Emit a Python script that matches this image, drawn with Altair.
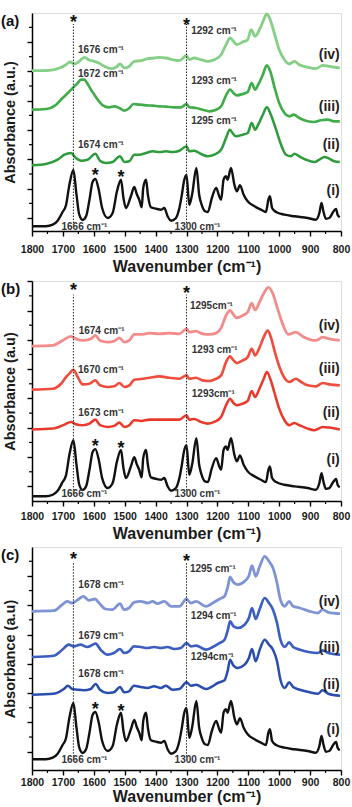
import altair as alt
import pandas as pd

FONT = "Liberation Sans"

# ---------------- data (absorbance in arbitrary units, offset traces) ----------------
# (i) reference spectrum (black), same in all panels
i_wn = [1800, 1755, 1733, 1717, 1701, 1690, 1679, 1666, 1656, 1647, 1636, 1625, 1614, 1604, 1595,
        1584, 1573, 1555, 1539, 1525, 1512, 1504, 1496, 1480, 1469, 1461, 1453, 1445, 1440, 1431,
        1425, 1415, 1399, 1382, 1372, 1361, 1350, 1336, 1323, 1315, 1308, 1300, 1291, 1282, 1268,
        1259, 1251, 1240, 1231, 1218, 1204, 1194, 1188, 1180, 1172, 1167, 1156, 1145, 1137, 1127,
        1115, 1102, 1080, 1059, 1043, 1035, 1030, 1023, 1010, 983, 951, 908, 881, 870, 863, 857,
        849, 838, 824, 816, 811, 804]
i_ab = [4.7, 4.7, 6.3, 10.3, 19, 25.7, 46.3, 61, 36.3, 16.3, 11, 14.7, 31.3, 49, 52,
        41.3, 23, 13, 18, 39.7, 51.3, 33, 23, 34.7, 44, 37, 31.3, 23.7, 43, 51.3,
        36.3, 23.7, 22.3, 21.3, 23, 14.7, 10.3, 12.3, 23, 36.3, 50, 56, 26.3, 36.3, 63,
        36.3, 26.3, 19.7, 19, 33, 43, 34.7, 31.3, 51.3, 54.7, 51.3, 63, 46.3, 39.7, 45.7,
        36.3, 29.7, 24.7, 21.3, 19, 31.3, 34.7, 23, 19, 16.3, 14.7, 13, 11.3, 18, 28, 19.7,
        12.3, 13, 19.7, 22, 16.3, 13.7]

# panel (a) - green
a_ii_wn = [1800, 1755, 1717, 1695, 1674, 1658, 1641, 1620, 1595, 1580, 1560, 1539, 1515, 1501, 1485,
           1469, 1453, 1431, 1409, 1388, 1366, 1345, 1323, 1300, 1291, 1275, 1253, 1231, 1210, 1188,
           1172, 1160, 1151, 1140, 1118, 1102, 1089, 1078, 1068, 1053, 1040, 1027, 1010, 994, 978,
           962, 951, 935, 913, 886, 870, 854, 838, 822, 804]
a_ii_ab = [65.7, 67, 71.3, 76.3, 78, 73, 70.3, 71.3, 77.3, 70.3, 68, 69, 74.7, 69, 69.7,
           76.3, 76.3, 78, 79.7, 79, 79.7, 79, 80.3, 84.7, 79.7, 80.3, 77, 74.7, 76.3, 81.3,
           93, 101.3, 98, 94.7, 96.3, 98, 108, 101.3, 106.3, 116.3, 123.7, 116.3, 101.3, 86.3, 76.3,
           74.7, 77.3, 74.7, 71.3, 69, 71.3, 74, 72.3, 69.7, 69]
a_iii_wn = [1800, 1755, 1722, 1701, 1684, 1668, 1652, 1641, 1631, 1620, 1609, 1598, 1587, 1571, 1550,
            1534, 1517, 1501, 1485, 1472, 1453, 1431, 1409, 1388, 1366, 1339, 1318, 1300, 1291, 1269,
            1248, 1226, 1204, 1188, 1172, 1159, 1148, 1137, 1118, 1102, 1089, 1078, 1068, 1053, 1040,
            1029, 1016, 1000, 983, 967, 953, 935, 908, 886, 865, 843, 822, 804]
a_iii_ab = [121.3, 122, 126.3, 133, 138, 143, 148, 151.3, 151.3, 147, 141.3, 136.3, 131.3, 125.7, 123.7,
            124.7, 123, 120.3, 123, 127, 126.3, 125.7, 125.3, 124.7, 124.3, 123.7, 123.7, 127, 123.7, 123,
            121.3, 119.7, 121.3, 124.7, 135.7, 141.3, 138, 135.7, 137, 139, 148, 141.3, 146.3, 156.3, 165.7,
            159.7, 144.7, 128, 118, 114.7, 116.3, 113, 109.7, 109, 110.7, 111.3, 109.7, 109.7]
a_iv_wn = [1800, 1744, 1711, 1690, 1677, 1663, 1647, 1631, 1614, 1598, 1584, 1566, 1544, 1528, 1515,
           1501, 1485, 1469, 1447, 1426, 1404, 1388, 1366, 1345, 1323, 1300, 1291, 1275, 1253, 1231,
           1210, 1188, 1172, 1159, 1148, 1137, 1118, 1102, 1091, 1078, 1064, 1050, 1040, 1029, 1016,
           1000, 983, 967, 951, 935, 908, 881, 859, 838, 804]
a_iv_ab = [160.3, 160.7, 163, 166.3, 169, 167, 169.7, 173.7, 170.7, 169.7, 168, 164.7, 162.3, 163.7, 167,
           163, 164.7, 169.7, 170.3, 172.3, 173, 173.7, 173, 171.3, 170.3, 175.5, 171.3, 173, 171.3, 169.7,
           171.3, 176.3, 186.3, 193, 189.7, 186.3, 189, 191.3, 201.3, 194.7, 201.3, 211.3, 217, 211.3, 198,
           181.3, 171.3, 167, 169.7, 166.3, 163.7, 162.3, 165.7, 164.7, 163]

# panel (b) - red
b_ii_wn = [1800, 1733, 1695, 1674, 1658, 1636, 1614, 1595, 1580, 1555, 1534, 1517, 1501, 1485, 1469,
           1447, 1420, 1388, 1356, 1323, 1300, 1291, 1275, 1253, 1231, 1210, 1188, 1172, 1159, 1148,
           1137, 1118, 1102, 1089, 1078, 1064, 1050, 1040, 1029, 1016, 1000, 983, 967, 951, 935,
           908, 886, 859, 838, 804]
b_ii_ab = [71.7, 72.6, 76.6, 79.3, 77, 76, 77.6, 81.6, 76, 74.3, 75.3, 78.6, 74.3, 76, 81,
           80.3, 81.6, 81.6, 81.6, 81.6, 86, 81.6, 82.3, 79.3, 77.6, 79.3, 84.3, 96, 102.6, 98.3,
           96, 97.6, 100.3, 110.3, 104.3, 112.6, 122.6, 129.3, 122.6, 109.3, 92.6, 81, 76, 78.3, 76,
           72.6, 71, 74.3, 73.6, 71.7]
b_iii_wn = [1800, 1733, 1706, 1690, 1677, 1666, 1652, 1636, 1614, 1595, 1580, 1555, 1534, 1517, 1501,
            1485, 1469, 1447, 1420, 1388, 1356, 1323, 1300, 1291, 1269, 1248, 1226, 1204, 1188, 1172,
            1159, 1148, 1137, 1118, 1102, 1089, 1078, 1064, 1050, 1037, 1027, 1014, 997, 981, 967,
            946, 929, 908, 881, 859, 838, 804]
b_iii_ab = [111.6, 112.6, 117.6, 124.3, 128.5, 131.6, 124.3, 117, 117.6, 121, 116, 114.3, 115, 118.3, 114.3,
            116, 121.6, 122.3, 123.6, 125, 123.6, 122.6, 126, 122.6, 123.6, 121, 120.3, 122.6, 126, 139.3,
            145, 141, 138.3, 141, 144.3, 152.6, 146, 153.6, 164.3, 171, 164.3, 149.3, 132.6, 122.6, 119.3,
            122.6, 119.3, 116, 115, 118.3, 117, 116]
b_iv_wn = [1800, 1733, 1701, 1674, 1658, 1631, 1609, 1595, 1580, 1555, 1534, 1517, 1501, 1485, 1469,
           1447, 1420, 1388, 1356, 1323, 1300, 1291, 1269, 1248, 1226, 1204, 1188, 1172, 1159, 1148,
           1137, 1118, 1102, 1089, 1078, 1064, 1048, 1035, 1021, 1005, 989, 970, 946, 924, 897,
           881, 859, 838, 804]
b_iv_ab = [155.3, 156, 161, 165, 162.6, 161, 162.6, 166, 161, 159.3, 160.3, 163.6, 159.3, 161, 167,
           167, 168.3, 167.6, 168.3, 167.6, 172.6, 169.3, 170.3, 167.6, 167, 168.3, 173.6, 186, 191, 187,
           183.6, 186, 189.3, 198.3, 191.6, 199.3, 209.3, 214.3, 208.3, 192.6, 177.6, 167, 169.3, 165, 161.6,
           161, 164.3, 162.6, 161]

# panel (c) - blue
c_ii_wn = [1800, 1730, 1697, 1684, 1670, 1654, 1632, 1610, 1594, 1580, 1556, 1535, 1515, 1502, 1486,
           1470, 1448, 1426, 1405, 1383, 1367, 1345, 1323, 1300, 1286, 1269, 1237, 1220, 1199, 1177,
           1166, 1159, 1148, 1134, 1112, 1098, 1088, 1076, 1063, 1047, 1033, 1020, 1007, 996, 982,
           968, 955, 933, 901, 874, 860, 841, 803]
c_ii_ab = [69.3, 70.3, 75, 78.3, 75, 74.3, 73.7, 75, 80, 74.3, 71, 71.7, 77, 71.7, 72.7,
           78.3, 77, 76, 77.7, 76, 78.3, 74.3, 75, 81.7, 78.3, 79.3, 75, 77, 81, 83.7,
           94.3, 104.3, 98.3, 96, 99.3, 106, 115, 102.7, 114.3, 124.3, 119.3, 114.3, 102.7, 84.3, 76,
           81.7, 77, 74.3, 71.7, 70.3, 73.7, 70.3, 68.3]
c_iii_wn = [1800, 1730, 1702, 1681, 1665, 1643, 1621, 1594, 1578, 1556, 1535, 1515, 1502, 1486, 1470,
            1448, 1426, 1405, 1383, 1361, 1340, 1318, 1300, 1286, 1269, 1237, 1215, 1193, 1177, 1166,
            1159, 1148, 1134, 1112, 1098, 1088, 1076, 1063, 1047, 1033, 1020, 1007, 996, 982, 968,
            955, 933, 901, 874, 860, 841, 803]
c_iii_ab = [107, 108.3, 114.3, 119.3, 117.7, 119.3, 117, 120.3, 114.3, 109.3, 111, 115, 111, 112.7, 117.7,
            117, 116, 117, 116, 117, 115, 116, 121, 117.7, 118.3, 114.3, 117, 121, 124.3, 134.3,
            142.7, 137.7, 136, 139.3, 146, 156, 145, 155, 166, 161, 154.3, 141, 124.3, 117, 121.7,
            117, 114.3, 111.7, 111, 113.7, 111, 109.3]
c_iv_wn = [1800, 1730, 1702, 1686, 1670, 1654, 1634, 1616, 1596, 1583, 1562, 1540, 1515, 1502, 1486,
           1470, 1448, 1426, 1410, 1394, 1372, 1350, 1323, 1300, 1286, 1269, 1237, 1215, 1193, 1177,
           1166, 1159, 1148, 1134, 1112, 1098, 1088, 1076, 1063, 1047, 1033, 1020, 1007, 996, 982,
           968, 955, 933, 901, 874, 860, 841, 803]
c_iv_ab = [152.7, 153.3, 159.3, 162.7, 161, 163.7, 167.7, 163.7, 165, 161, 155, 154.3, 160.3, 154.3, 156,
           161.7, 162.7, 161, 162.7, 160.3, 162.7, 157.7, 157.7, 165, 161, 162.7, 157.7, 161, 165, 167.7,
           177.7, 187, 181.7, 179.3, 182.7, 188.3, 198.3, 187.7, 197.7, 207.7, 202.7, 196, 181, 164.3, 157.7,
           162.7, 157.7, 156, 152.7, 151, 154.3, 151.7, 150.3]

series_names = ["(i)", "(ii)", "(iii)", "(iv)"]

# peak annotations: text, wavenumber (left edge), height
a_notes = [("1676 cm⁻¹", 1651, 181), ("1672 cm⁻¹", 1651, 157), ("1674 cm⁻¹", 1651, 86),
           ("1292 cm⁻¹", 1285, 200), ("1293 cm⁻¹", 1285, 150), ("1295 cm⁻¹", 1285, 110)]
b_notes = [("1674 cm⁻¹", 1649, 170.7), ("1670 cm⁻¹", 1651, 131.6), ("1673 cm⁻¹", 1650, 88.3),
           ("1295cm⁻¹", 1289, 195.6), ("1293 cm⁻¹", 1283, 151.3), ("1293cm⁻¹", 1283, 107.3)]
c_notes = [("1678 cm⁻¹", 1650, 179), ("1679 cm⁻¹", 1650, 128), ("1678 cm⁻¹", 1650, 90),
           ("1295 cm⁻¹", 1289, 194.7), ("1294 cm⁻¹", 1286, 148), ("1294cm⁻¹", 1286, 107.3)]

# trace labels heights (iv),(iii),(ii),(i)
a_roman_h = [176, 124, 86, 40]
b_roman_h = [175, 132.3, 88.3, 41.3]
c_roman_h = [162.3, 115.7, 79, 34]

# reference band labels under the dotted lines
ref_labels = ["1666 cm⁻¹", "1300 cm⁻¹"]
ref_lines = [1666, 1300]
star_wn = [1666, 1300, 1595, 1512]

x_major = list(range(800, 1801, 100))
x_minor = list(range(850, 1800, 100))


def panel(letter, ytitle, traces, colors, notes, roman_h, ref_wn, ref_h, star_h, dot_span,
          height, ydom, ytick0, ystep, lab_pad, title_pad):
    rows = []
    for name, wn, ab in traces:
        rows += [{"s": name, "w": w, "a": a} for w, a in zip(wn, ab)]
    df = pd.DataFrame(rows)

    xsc = alt.Scale(domain=[800, 1800], reverse=True, nice=False, zero=False)
    ysc = alt.Scale(domain=ydom, nice=False, zero=False)
    ymaj = []
    ymin = []
    k = 0
    while ytick0 + k * ystep <= ydom[1] + 0.6:
        ymaj.append(ytick0 + k * ystep)
        if ytick0 + (k + 0.5) * ystep <= ydom[1]:
            ymin.append(ytick0 + (k + 0.5) * ystep)
        k += 1
    xaxis = alt.Axis(values=x_major, format="d", title="Wavenumber (cm⁻¹)", grid=False,
                     labelFont=FONT, labelFontWeight="bold", labelFontSize=10.5, labelColor="#1a1a1a",
                     labelPadding=lab_pad, labelOverlap=False, labelFlush=False,
                     tickSize=5, tickWidth=1.4, tickColor="black", domainColor="black", domainWidth=1.5,
                     titleFont=FONT, titleFontWeight="bold", titleFontSize=16, titleColor="#1a1a1a",
                     titlePadding=title_pad)
    yaxis = alt.Axis(values=ymaj, labels=False, title=ytitle, grid=False,
                     tickSize=5, tickWidth=1.4, tickColor="black", domainColor="black", domainWidth=1.5,
                     titleFont=FONT, titleFontWeight="bold", titleFontSize=14.5, titleColor="#1a1a1a",
                     titlePadding=9)
    X = alt.X("w:Q", scale=xsc, axis=xaxis)
    Y = alt.Y("a:Q", scale=ysc, axis=yaxis)

    lines = alt.Chart(df).mark_line(interpolate="monotone", strokeJoin="round").encode(
        x=X, y=Y,
        color=alt.Color("s:N", scale=alt.Scale(domain=series_names, range=["#111111"] + colors), legend=None),
        strokeWidth=alt.StrokeWidth("s:N", scale=alt.Scale(domain=series_names, range=[2.4, 2.8, 2.8, 2.8]),
                                    legend=None),
    )
    dots = alt.Chart(pd.DataFrame({"w": ref_wn, "a": [dot_span[0]] * 2, "a2": [dot_span[1]] * 2})).mark_rule(
        color="#222", strokeWidth=1, strokeDash=[1.5, 1.5]).encode(x=X, y=Y, y2="a2:Q")

    stars = alt.Chart(pd.DataFrame({"w": star_wn, "a": star_h, "t": ["*"] * 4})).mark_text(
        font=FONT, fontSize=18, fontWeight="bold", color="#111", baseline="alphabetic", dy=10).encode(
        x=X, y=Y, text="t:N")

    nd = pd.DataFrame({"t": [n[0] for n in notes], "w": [n[1] for n in notes], "a": [n[2] for n in notes]})
    note_txt = alt.Chart(nd).mark_text(font=FONT, fontSize=10, fontWeight="bold", color="#333",
                                       align="left", baseline="middle").encode(x=X, y=Y, text="t:N")

    rd = pd.DataFrame({"t": ["(iv)", "(iii)", "(ii)", "(i)"], "w": [804] * 4, "a": roman_h})
    roman = alt.Chart(rd).mark_text(font=FONT, fontSize=14, fontWeight="bold", color="#222",
                                    align="right", baseline="middle").encode(x=X, y=Y, text="t:N")

    refd = pd.DataFrame({"t": ref_labels, "w": ref_wn, "a": [ref_h] * 2})
    reft = alt.Chart(refd).mark_text(font=FONT, fontSize=10, fontWeight="bold", color="#333",
                                     align="center", baseline="middle", dx=11).encode(x=X, y=Y, text="t:N")

    lettr = alt.Chart(pd.DataFrame({"t": [letter]})).mark_text(
        font=FONT, fontSize=15, fontWeight="bold", color="#111", align="left", baseline="middle").encode(
        x=alt.value(-31), y=alt.value(8), text="t:N")

    ymt = alt.Chart(pd.DataFrame({"a": ymin})).mark_rule(color="black", strokeWidth=1.2).encode(
        y=Y, x=alt.value(-3), x2=alt.value(0))
    xmt = alt.Chart(pd.DataFrame({"w": x_minor})).mark_rule(color="black", strokeWidth=1.2).encode(
        x=X, y=alt.value(height), y2=alt.value(height + 3))

    return alt.layer(lines, dots, stars, note_txt, roman, reft, lettr, ymt, xmt).properties(
        width=309, height=height)


pa = panel("(a)", "Absorbance (a.u.)",
           [("(i)", i_wn, i_ab), ("(ii)", a_ii_wn, a_ii_ab), ("(iii)", a_iii_wn, a_iii_ab), ("(iv)", a_iv_wn, a_iv_ab)],
           ["#2e9b3c", "#41ad4a", "#86cf86"], a_notes, a_roman_h, ref_lines, 4,
           [213, 210, 60, 58], [8, 207], 218, [0, 218], 13, 29.33, 8, 4)
pb = panel("(b)", "Absorbance (a.u)",
           [("(i)", i_wn, i_ab), ("(ii)", b_ii_wn, b_ii_ab), ("(iii)", b_iii_wn, b_iii_ab), ("(iv)", b_iv_wn, b_iv_ab)],
           ["#e8392b", "#ef4e3e", "#f28c8a"], b_notes, b_roman_h, ref_lines, 7,
           [215.6, 213, 59, 57], [10.6, 207], 220, [0, 220.6], 14.6, 29.4, 5, 4)
pc = panel("(c)", "Absorbance (a.u)",
           [("(i)", i_wn, i_ab), ("(ii)", c_ii_wn, c_ii_ab), ("(iii)", c_iii_wn, c_iii_ab), ("(iv)", c_iv_wn, c_iv_ab)],
           ["#2b4eae", "#3c5ec0", "#7f94d4"], c_notes, c_roman_h, ref_lines, 4,
           [209, 207, 59, 57], [7.3, 202.3], 223, [-6, 217], 12.3, 29.3, 2, 1)

chart = alt.vconcat(pa, pb, pc, spacing=4).resolve_scale(
    color="independent", strokeWidth="independent"
).properties(
    padding={"left": 0, "top": 12, "right": 0, "bottom": 0}
).configure_view(stroke=None).configure(font=FONT)

chart.save("out.html", embed_options={"renderer": "svg", "actions": False})
